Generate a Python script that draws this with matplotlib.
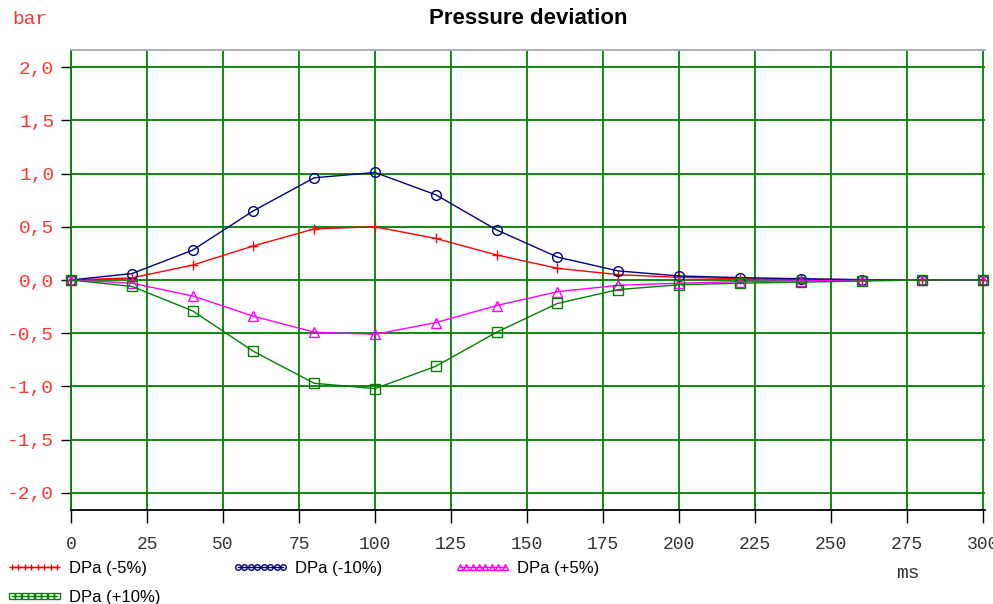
import matplotlib
matplotlib.use("Agg")
import matplotlib.pyplot as plt
from matplotlib.lines import Line2D

time_ms = [0, 20, 40, 60, 80, 100, 120, 140, 160, 180, 200, 220, 240, 260, 280, 300]
dpa_m5 = [0, 0.02, 0.14, 0.32, 0.48, 0.50, 0.39, 0.235, 0.11, 0.05, 0.025, 0.012, 0.006, 0.002, 0, 0]
dpa_m10 = [0, 0.06, 0.28, 0.65, 0.96, 1.01, 0.80, 0.47, 0.215, 0.085, 0.038, 0.022, 0.012, 0.004, 0, 0]
dpa_p5 = [0, -0.03, -0.15, -0.34, -0.49, -0.51, -0.40, -0.24, -0.11, -0.05, -0.03, -0.015, -0.008, -0.003, 0, 0]
dpa_p10 = [0, -0.06, -0.29, -0.67, -0.97, -1.02, -0.81, -0.49, -0.22, -0.09, -0.045, -0.03, -0.02, -0.01, 0, 0]
labels = ["DPa (-5%)", "DPa (-10%)", "DPa (+5%)", "DPa (+10%)"]
colors = ["#ff0000", "#000080", "#ff00ff", "#008000"]
markers = ["+", "o", "^", "s"]
series = [dpa_m5, dpa_m10, dpa_p5, dpa_p10]

x_ticks = list(range(0, 301, 25))
y_ticks = [-2.0, -1.5, -1.0, -0.5, 0.0, 0.5, 1.0, 1.5, 2.0]

fig = plt.figure(figsize=(9.93, 6.04), dpi=100)
ax = fig.add_axes([71 / 993, 1 - 510 / 604, (985 - 71) / 993, (510 - 50) / 604])

for ys, c, m in zip(series, colors, markers):
    ax.plot(time_ms, ys, color=c, lw=1.0, marker=m, markersize=7,
            markerfacecolor="none", markeredgecolor=c, markeredgewidth=1.0, zorder=3,
            clip_on=False)

ax.set_xlim(0, 300.6)
ax.set_ylim(-2.16, 2.16)
ax.set_xticks(x_ticks)
ax.set_yticks(y_ticks)
ax.set_xticklabels([str(t) for t in x_ticks], family="Liberation Mono", fontsize=13, color="#333333")
ax.set_yticklabels([f"{v:.1f}".replace(".", ",") for v in y_ticks], family="Liberation Mono",
                   fontsize=14, color="#ff3333")
ax.tick_params(axis="x", length=9, width=1, color="black", pad=10, direction="out")
ax.tick_params(axis="y", length=7, width=1, color="black", pad=5, direction="out")
ax.grid(True, color="#008000", lw=1.3, zorder=1)
ax.set_axisbelow(True)
ax.spines["top"].set_color("#aaaaaa")
ax.spines["bottom"].set_color("black")
ax.spines["left"].set_color("#008000")
ax.spines["right"].set_visible(False)
for s in ax.spines.values():
    s.set_linewidth(1.3)

fig.text(528 / 993, 1 - 19 / 604, "Pressure deviation", ha="center", va="center",
         family="Liberation Sans", fontweight="bold", fontsize=16)
fig.text(12 / 993, 1 - 19 / 604, "bar", ha="left", va="center", family="Liberation Mono",
         fontsize=14, color="#ff3333")
fig.text(908 / 993, 1 - 573 / 604, "ms", ha="center", va="center", family="Liberation Mono",
         fontsize=14, color="#333333")

handles = [Line2D([], [], color=c, lw=1.0, marker=m, markersize=4, markerfacecolor="none",
                  markeredgecolor=c, markeredgewidth=1.0) for c, m in zip(colors, markers)]
order = [0, 3, 1, 2]
fig.legend([handles[i] for i in order], [labels[i] for i in order], ncol=3,
           loc="upper left", bbox_to_anchor=(7 / 993, 1 - 561 / 604), frameon=False,
           prop={"family": "Liberation Sans", "size": 12}, numpoints=8, handlelength=3.3,
           handletextpad=0.42, columnspacing=4.35, labelspacing=0.85, borderaxespad=0,
           borderpad=0)

fig.savefig("out.png", dpi=100)
